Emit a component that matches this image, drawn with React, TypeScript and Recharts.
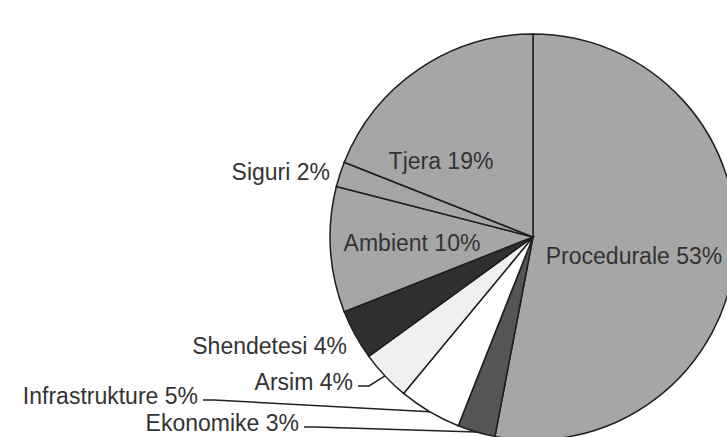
import { PieChart, Pie, Cell } from "recharts";

const CATEGORIES = [
  "Procedurale",
  "Ekonomike",
  "Infrastrukture",
  "Arsim",
  "Shendetesi",
  "Ambient",
  "Siguri",
  "Tjera",
];
const SHARES = [53, 3, 5, 4, 4, 10, 2, 19];
const FILLS = ["#a6a6a6", "#555555", "#ffffff", "#f0f0f0", "#303030", "#a6a6a6", "#a6a6a6", "#a6a6a6"];

// label placement relative to pie center (inside) or leader ends (outside)
const LABEL_LAYOUT: Record<string, { dx: number; dy: number; anchor: "start" | "middle" | "end"; leader?: boolean }> = {
  Procedurale: { dx: 101, dy: 19, anchor: "middle" },
  Tjera: { dx: -92, dy: -76, anchor: "middle" },
  Ambient: { dx: -121, dy: 6, anchor: "middle" },
  Siguri: { dx: -203, dy: -65, anchor: "end" },
  Shendetesi: { dx: -186, dy: 109, anchor: "end" },
  Arsim: { dx: -180, dy: 145, anchor: "end", leader: true },
  Infrastrukture: { dx: -335, dy: 159, anchor: "end", leader: true },
  Ekonomike: { dx: -234, dy: 186, anchor: "end", leader: true },
};

const data = CATEGORIES.map((name, i) => ({ name, value: SHARES[i] }));

const RADIAN = Math.PI / 180;

const renderLabel = (props: any) => {
  const { cx, cy, midAngle, outerRadius, name, value } = props;
  const layout = LABEL_LAYOUT[name];
  if (!layout) return null;
  const x = cx + layout.dx;
  const y = cy + layout.dy;
  const text = `${name} ${value}%`;
  const ax = cx + outerRadius * Math.cos(-midAngle * RADIAN);
  const ay = cy + outerRadius * Math.sin(-midAngle * RADIAN);
  return (
    <g>
      {layout.leader ? (
        <polyline
          points={`${x + 5},${y + 4} ${x + 16},${y + 4} ${ax},${ay}`}
          fill="none"
          stroke="#222"
          strokeWidth={1.5}
        />
      ) : null}
      <text
        x={x}
        y={y}
        textAnchor={layout.anchor}
        dominantBaseline="central"
        fill="#333"
        fontSize={23}
        fontFamily="Arial, 'Liberation Sans', sans-serif"
      >
        {text}
      </text>
    </g>
  );
};

export default function App() {
  return (
    <div style={{ position: "absolute", left: 0, top: 0, width: 727, height: 437, background: "#fff", overflow: "hidden" }}>
      <PieChart width={727} height={437} margin={{ top: 0, right: 0, bottom: 0, left: 0 }}>
        <Pie
          data={data}
          dataKey="value"
          nameKey="name"
          cx={533}
          cy={237}
          outerRadius={203}
          startAngle={90}
          endAngle={-270}
          stroke="#1e1e1e"
          strokeWidth={1.5}
          label={renderLabel}
          labelLine={false}
          isAnimationActive={false}
        >
          {data.map((d, i) => (
            <Cell key={d.name} fill={FILLS[i]} />
          ))}
        </Pie>
      </PieChart>
    </div>
  );
}
